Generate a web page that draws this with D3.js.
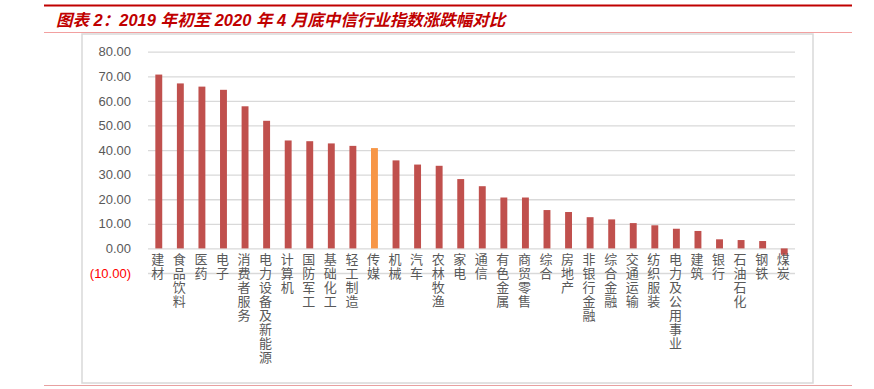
<!DOCTYPE html>
<html><head><meta charset="utf-8">
<script src="https://cdn.jsdelivr.net/npm/d3@7"></script>
<style>
html,body{margin:0;padding:0;background:#fff;}
svg{display:block;}
</style></head>
<body>
<svg id="c" width="874" height="389"></svg>
<script>
const categories = ["建材","食品饮料","医药","电子","消费者服务","电力设备及新能源","计算机","国防军工","基础化工","轻工制造","传媒","机械","汽车","农林牧渔","家电","通信","有色金属","商贸零售","综合","房地产","非银行金融","综合金融","交通运输","纺织服装","电力及公用事业","建筑","银行","石油石化","钢铁","煤炭"];
const values = [70.7,67.1,65.8,64.5,57.8,51.9,43.9,43.6,42.7,41.7,40.8,35.8,34.1,33.6,28.2,25.3,20.7,20.7,15.6,14.8,12.7,11.8,10.3,9.4,8.0,7.1,3.7,3.4,3.0,-2.6];
const highlight = ["传媒"];
const yTicks = [-10,0,10,20,30,40,50,60,70,80];
const title = "图表 2：2019 年初至 2020 年 4 月底中信行业指数涨跌幅对比";

const svg = d3.select("#c");

// header lines
svg.append("line").attr("x1",44).attr("x2",852).attr("y1",5.5).attr("y2",5.5).attr("stroke","#C00000").attr("stroke-width",2);
svg.append("text").attr("x",56).attr("y",26).text(title)
  .attr("fill","#C00000").attr("font-size",16.5).attr("font-weight","bold").attr("font-style","italic")
  .attr("font-family","'Liberation Sans','Noto Sans CJK SC',sans-serif");
svg.append("line").attr("x1",44).attr("x2",852).attr("y1",32.5).attr("y2",32.5).attr("stroke","#F2A0A0").attr("stroke-width",1);
svg.append("line").attr("x1",44).attr("x2",852).attr("y1",385.5).attr("y2",385.5).attr("stroke","#E8A0A0").attr("stroke-width",1);

// chart box
svg.append("rect").attr("x",82).attr("y",34).attr("width",731).attr("height",349)
  .attr("fill","none").attr("stroke","#D9D9D9").attr("stroke-width",1.5);

const x = d3.scaleBand().domain(categories).range([148,795]).paddingInner(0.68).paddingOuter(0.34);
const y = d3.scaleLinear().domain([-10,80]).range([273,51.7]);

// gridlines
const yAxis = d3.axisLeft(y).tickValues(yTicks).tickSize(-(795-148)).tickPadding(17)
  .tickFormat(d => d < 0 ? "(" + d3.format(".2f")(-d) + ")" : d3.format(".2f")(d));
const gy = svg.append("g").attr("transform","translate(148,0)").call(yAxis);
gy.select(".domain").remove();
gy.selectAll(".tick line").attr("stroke","#D9D9D9").attr("stroke-width",1.3);
gy.selectAll(".tick text").attr("font-family","'Liberation Sans',Arial,sans-serif").attr("font-size",13)
  .attr("fill", d => d < 0 ? "#FF0000" : "#595959");

// bars
svg.append("g").selectAll("rect").data(categories).join("rect")
  .attr("x", d => x(d))
  .attr("width", x.bandwidth())
  .attr("y", (d,i) => y(Math.max(0, values[i])))
  .attr("height", (d,i) => Math.abs(y(values[i]) - y(0)))
  .attr("fill", d => highlight.includes(d) ? "#F79646" : "#C0504D");

// x labels (vertical)
svg.append("g").selectAll("text").data(categories).join("text")
  .attr("x", d => x(d) + x.bandwidth()/2 - 1)
  .attr("y", 253)
  .attr("fill","#595959")
  .attr("font-size",13)
  .attr("letter-spacing",1)
  .attr("font-family","'Noto Sans CJK SC',sans-serif")
  .style("writing-mode","vertical-rl")
  .style("text-orientation","upright")
  .text(d => d);
</script>
</body></html>
